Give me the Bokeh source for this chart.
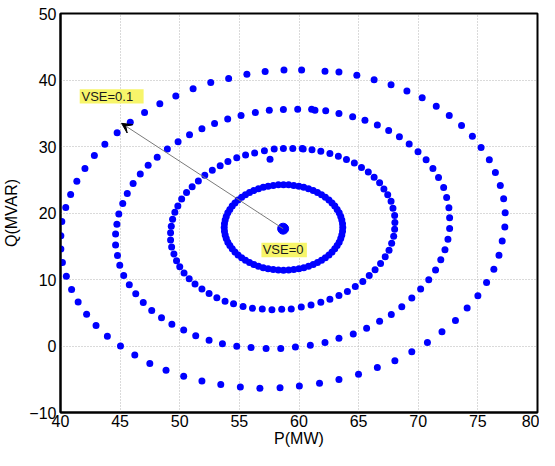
from bokeh.plotting import figure
from bokeh.models import Arrow, VeeHead, Label, BoxAnnotation, Range1d
from bokeh.embed import file_html
from bokeh.resources import INLINE

# ---- data ----
X_TICKS = [40, 45, 50, 55, 60, 65, 70, 75, 80]
Y_TICKS = [-10, 0, 10, 20, 30, 40, 50]

# operating point (VSE=0)
P_CENTER = [58.67]
Q_CENTER = [17.64]

# innermost ring
P_RING1 = [63.67, 63.65, 63.59, 63.50, 63.37, 63.20, 63.00, 62.77, 62.51, 62.21, 61.89, 61.55,
           61.19, 60.80, 60.40, 59.99, 59.56, 59.13, 58.70, 58.27, 57.84, 57.41, 57.00, 56.60,
           56.21, 55.85, 55.51, 55.19, 54.89, 54.63, 54.40, 54.20, 54.03, 53.90, 53.81, 53.75,
           53.73, 53.75, 53.81, 53.90, 54.03, 54.20, 54.40, 54.63, 54.89, 55.19, 55.51, 55.85,
           56.21, 56.60, 57.00, 57.41, 57.84, 58.27, 58.70, 59.13, 59.56, 59.99, 60.40, 60.80,
           61.19, 61.55, 61.89, 62.21, 62.51, 62.77, 63.00, 63.20, 63.37, 63.50, 63.59, 63.65]
Q_RING1 = [17.82, 18.38, 18.94, 19.48, 20.02, 20.54, 21.04, 21.51, 21.95, 22.37, 22.75, 23.09,
           23.39, 23.65, 23.86, 24.03, 24.15, 24.23, 24.25, 24.23, 24.15, 24.03, 23.86, 23.65,
           23.39, 23.09, 22.75, 22.37, 21.95, 21.51, 21.04, 20.54, 20.02, 19.48, 18.94, 18.38,
           17.82, 17.26, 16.70, 16.16, 15.62, 15.10, 14.61, 14.13, 13.69, 13.27, 12.90, 12.55,
           12.25, 11.99, 11.78, 11.61, 11.49, 11.41, 11.39, 11.41, 11.49, 11.61, 11.78, 11.99,
           12.25, 12.55, 12.90, 13.27, 13.69, 14.13, 14.61, 15.10, 15.62, 16.16, 16.70, 17.26]

# second ring
P_RING2 = [59.48, 58.69, 57.92, 57.10, 56.28, 55.52, 54.78, 54.04, 53.39, 52.73, 52.10, 51.56,
           51.04, 50.57, 50.16, 49.84, 49.59, 49.40, 49.29,
           49.23, 49.23, 49.32, 49.51, 49.73, 50.00, 50.36, 50.79, 51.28, 51.86, 52.46, 53.11,
           53.80, 54.51, 55.31, 56.10, 56.92, 57.73, 58.55,
           59.35, 60.19, 61.01, 61.83, 62.59, 63.35, 64.06, 64.72, 65.35, 65.89, 66.38, 66.84,
           67.23, 67.55, 67.77, 67.94, 68.02,
           68.04, 68.02, 67.88, 67.72, 67.44, 67.12, 66.76, 66.30, 65.81, 65.24, 64.64, 63.98,
           63.30, 62.59, 61.83, 61.09, 60.35, 60.27, 57.57]
Q_RING2 = [29.71, 29.71, 29.61, 29.37, 29.02, 28.73, 28.29, 27.76, 27.12, 26.44, 25.66, 24.83,
           23.95, 23.07, 22.10, 21.07, 20.10, 19.07, 18.00,
           17.02, 15.95, 14.88, 13.85, 12.83, 11.90, 10.98, 10.10, 9.32, 8.59, 7.90, 7.27,
           6.73, 6.34, 5.95, 5.66, 5.56, 5.46, 5.51,
           5.56, 5.85, 6.15, 6.59, 7.02, 7.61, 8.20, 8.93, 9.71, 10.59, 11.46, 12.39,
           13.41, 14.39, 15.46, 16.49, 17.56,
           18.59, 19.61, 20.73, 21.76, 22.73, 23.61, 24.54, 25.37, 26.15, 26.83, 27.51, 28.05,
           28.54, 28.93, 29.27, 29.51, 29.61, 29.71, 28.10]

# third ring
P_RING3 = [58.69, 57.51, 56.34, 55.14, 54.02, 52.92, 51.86, 50.82, 49.86, 48.96, 48.11, 47.35,
           46.69, 46.09, 45.60, 45.22, 44.89, 44.73,
           44.62, 44.62, 44.78, 44.97, 45.30, 45.77, 46.31, 46.94, 47.65, 48.47, 49.34, 50.33,
           51.34, 52.46, 53.58, 54.78, 55.98, 57.24, 58.47, 59.70,
           60.95, 62.18, 63.35, 64.55, 65.67, 66.76, 67.74, 68.62, 69.46, 70.20, 70.88, 71.45,
           71.89, 72.24, 72.49, 72.63,
           72.63, 72.57, 72.38, 72.13, 71.70, 71.23, 70.66, 69.98, 69.24, 68.42, 67.52, 66.57,
           65.53, 64.50, 63.35, 62.24, 61.34, 61.06, 59.89]
Q_RING3 = [35.56, 35.46, 35.12, 34.68, 34.15, 33.46, 32.68, 31.76, 30.73, 29.61, 28.39, 27.17,
           25.85, 24.44, 22.93, 21.41, 19.85, 18.29,
           16.83, 15.17, 13.61, 12.15, 10.59, 9.22, 7.85, 6.54, 5.32, 4.24, 3.27, 2.39,
           1.56, 0.88, 0.34, -0.05, -0.24, -0.39, -0.39, -0.15,
           0.10, 0.54, 1.17, 1.80, 2.68, 3.71, 4.73, 5.90, 7.22, 8.59, 9.95, 11.41,
           12.98, 14.49, 16.05, 17.66,
           19.27, 20.78, 22.34, 23.85, 25.32, 26.68, 28.00, 29.22, 30.39, 31.46, 32.39, 33.22,
           33.95, 34.49, 34.98, 35.37, 35.46, 35.61, 35.61]

# outer ring (VSE=0.1)
P_RING4 = [58.74, 57.16, 55.63, 54.10, 52.60, 51.12, 49.67, 48.33, 47.05, 45.85, 44.75, 43.72,
           42.84, 42.05, 41.37, 40.85, 40.44, 40.11,
           40.03, 40.03, 40.16, 40.49, 40.93, 41.48, 42.19, 42.98, 43.93, 45.03, 46.23, 47.49,
           48.85, 50.33, 51.86, 53.44, 55.08, 56.72, 58.41,
           60.03, 61.72, 63.35, 64.99, 66.57, 68.04, 69.46, 70.77, 71.99, 73.12, 74.10, 75.00,
           75.73, 76.34, 76.77, 77.04, 77.26,
           77.29, 77.16, 76.88, 76.47, 75.96, 75.27, 74.54, 73.63, 72.60, 71.51, 70.33, 69.05,
           67.72, 66.30, 64.85, 63.35, 62.18, 60.22]
Q_RING4 = [41.51, 41.27, 40.88, 40.24, 39.61, 38.68, 37.61, 36.44, 35.12, 33.66, 32.05, 30.34,
           28.63, 26.68, 24.78, 22.78, 20.83, 18.73,
           16.59, 14.59, 12.54, 10.49, 8.49, 6.63, 4.78, 3.07, 1.46, 0.00, -1.37, -2.63,
           -3.66, -4.54, -5.27, -5.80, -6.15, -6.34, -6.29,
           -6.00, -5.61, -5.02, -4.24, -3.22, -2.20, -0.88, 0.54, 2.15, 3.85, 5.71, 7.56,
           9.56, 11.56, 13.66, 15.80, 17.90,
           20.05, 22.15, 24.15, 26.10, 28.00, 29.85, 31.56, 33.17, 34.68, 36.05, 37.32, 38.34,
           39.27, 40.05, 40.73, 41.22, 41.32, 41.51]

# annotation (arrow end, label boxes)
ARROW_END = (45.12, 33.48)
LABEL_01 = dict(text="VSE=0.1", x=41.76, y=37.54, box=(41.61, 46.97, 38.61, 36.47))
LABEL_0 = dict(text="VSE=0", x=56.95, y=14.44, box=(56.85, 60.66, 15.54, 13.34))

FONT = "Liberation Sans"

p = figure(width=539, height=450,
           x_range=Range1d(40, 80), y_range=Range1d(-10, 50),
           output_backend="svg", toolbar_location=None,
           min_border_left=56, min_border_right=2, min_border_top=13, min_border_bottom=38,
           x_axis_label="P(MW)", y_axis_label="Q(MVAR)")

p.background_fill_color = "white"
p.border_fill_color = "white"
p.outline_line_color = "black"
p.outline_line_width = 2
p.outline_line_alpha = 1

p.xaxis.ticker = X_TICKS
p.yaxis.ticker = Y_TICKS
for ax in (p.xaxis, p.yaxis):
    ax.major_label_text_font = FONT
    ax.major_label_text_font_size = "16px"
    ax.major_label_text_color = "black"
    ax.axis_label_text_font = FONT
    ax.axis_label_text_font_size = "16px"
    ax.axis_label_text_font_style = "normal"
    ax.axis_label_text_color = "black"
    ax.major_tick_in = 0
    ax.major_tick_out = 0
    ax.minor_tick_in = 0
    ax.minor_tick_out = 0
    ax.axis_line_color = "black"
    ax.axis_line_width = 2
p.xaxis.major_label_standoff = 2
p.yaxis.major_label_standoff = 4
p.xaxis.axis_label_standoff = 0
p.yaxis.axis_label_standoff = 6

p.grid.grid_line_color = "#b4b4b4"
p.grid.grid_line_dash = "1 2"
p.grid.grid_line_width = 1

for P, Q in ((P_RING1, Q_RING1), (P_RING2, Q_RING2), (P_RING3, Q_RING3), (P_RING4, Q_RING4)):
    p.scatter(P, Q, marker="circle", size=7, fill_color="blue", line_color="blue", line_width=0)

p.scatter(P_CENTER, Q_CENTER, marker="circle", size=11, fill_color="blue", line_color="blue")

p.add_layout(Arrow(end=VeeHead(size=10, fill_color="black", line_color="black", line_width=1),
                   x_start=P_CENTER[0], y_start=Q_CENTER[0],
                   x_end=ARROW_END[0], y_end=ARROW_END[1],
                   line_color="#7a7a7a", line_width=1))

for lab in (LABEL_01, LABEL_0):
    l, r, t, b = lab["box"]
    p.add_layout(BoxAnnotation(left=l, right=r, top=t, bottom=b,
                               fill_color="#f7f56a", fill_alpha=1,
                               line_color=None, line_alpha=0))
    p.add_layout(Label(x=lab["x"], y=lab["y"], text=lab["text"],
                       text_font=FONT, text_font_size="13px",
                       text_baseline="middle", text_align="left", text_color="#1a1a1a"))

open("out.html", "w").write(file_html(p, INLINE))
